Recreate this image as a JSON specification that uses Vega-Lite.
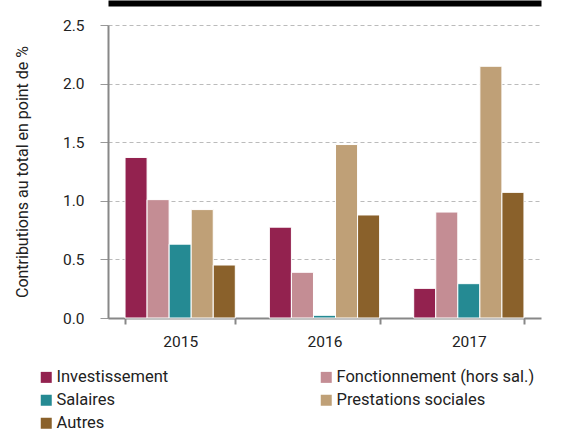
{
  "$schema": "https://vega.github.io/schema/vega-lite/v6.json",
  "width": 433,
  "height": 293,
  "autosize": "none",
  "padding": {"left": 108, "top": 25, "right": 20, "bottom": 116},
  "background": "white",
  "config": {
    "view": {"stroke": null},
    "font": "Roboto",
    "axis": {"labelFont": "Roboto", "titleFont": "Roboto", "labelFontWeight": 400},
    "legend": {"labelFont": "Roboto", "labelFontWeight": 400}
  },
  "data": {
    "values": [
      {"year": "2015", "cat": "Investissement", "v": 1.37},
      {"year": "2015", "cat": "Fonctionnement (hors sal.)", "v": 1.01},
      {"year": "2015", "cat": "Salaires", "v": 0.63},
      {"year": "2015", "cat": "Prestations sociales", "v": 0.925},
      {"year": "2015", "cat": "Autres", "v": 0.452},
      {"year": "2016", "cat": "Investissement", "v": 0.775},
      {"year": "2016", "cat": "Fonctionnement (hors sal.)", "v": 0.39},
      {"year": "2016", "cat": "Salaires", "v": 0.023},
      {"year": "2016", "cat": "Prestations sociales", "v": 1.48},
      {"year": "2016", "cat": "Autres", "v": 0.879},
      {"year": "2017", "cat": "Investissement", "v": 0.253},
      {"year": "2017", "cat": "Fonctionnement (hors sal.)", "v": 0.904},
      {"year": "2017", "cat": "Salaires", "v": 0.293},
      {"year": "2017", "cat": "Prestations sociales", "v": 2.148},
      {"year": "2017", "cat": "Autres", "v": 1.072}
    ]
  },
  "layer": [
    {
      "mark": {"type": "bar", "stroke": "white", "strokeWidth": 1},
      "encoding": {
        "x": {
          "field": "year", "type": "ordinal",
          "scale": {"paddingInner": 0.236, "paddingOuter": 0.118},
          "axis": {
            "title": null, "labelAngle": 0, "labelFontSize": 15.5, "labelColor": "#222",
            "labelPadding": 10, "domainColor": "#888", "domainWidth": 2,
            "tickColor": "#888", "tickWidth": 2, "tickSize": 6, "tickBand": "extent"
          }
        },
        "xOffset": {
          "field": "cat", "type": "nominal",
          "sort": ["Investissement", "Fonctionnement (hors sal.)", "Salaires", "Prestations sociales", "Autres"],
          "scale": {"paddingInner": 0, "paddingOuter": 0}
        },
        "y": {
          "field": "v", "type": "quantitative",
          "scale": {"domain": [0, 2.5], "nice": false},
          "axis": {
            "title": "Contributions au total en point de %", "titleFontSize": 16,
            "titleFontWeight": 400, "titleColor": "#222", "titlePadding": 32,
            "values": [0, 0.5, 1, 1.5, 2, 2.5], "format": ".1f",
            "labelFontSize": 15.5, "labelColor": "#222", "labelPadding": 16,
            "domainColor": "#888", "domainWidth": 2,
            "grid": true, "gridColor": "#bbbbbb", "gridDash": [4, 3], "gridWidth": 1,
            "tickColor": "#999999", "tickSize": 8
          }
        },
        "color": {
          "field": "cat", "type": "nominal",
          "sort": ["Investissement", "Fonctionnement (hors sal.)", "Salaires", "Prestations sociales", "Autres"],
          "scale": {
            "domain": ["Investissement", "Fonctionnement (hors sal.)", "Salaires", "Prestations sociales", "Autres"],
            "range": ["#93224f", "#c48d94", "#258a93", "#bfa077", "#8a612b"]
          },
          "legend": {
            "title": null, "orient": "none", "legendX": -70, "legendY": 344,
            "direction": "horizontal", "columns": 2, "columnPadding": 149, "rowPadding": 6,
            "symbolType": "square", "symbolSize": 121, "symbolStrokeWidth": 0,
            "labelFontSize": 16.5, "labelColor": "#222", "labelOffset": 2, "labelLimit": 300
          }
        }
      }
    },
    {
      "mark": {"type": "bar", "opacity": 0},
      "encoding": {
        "x": {
          "field": "year", "type": "ordinal",
          "axis": {
            "orient": "top", "title": null, "labels": false, "ticks": false,
            "domainColor": "black", "domainWidth": 6, "offset": 22
          }
        },
        "y": {"field": "v", "type": "quantitative"}
      }
    }
  ],
  "resolve": {"axis": {"x": "independent"}}
}
